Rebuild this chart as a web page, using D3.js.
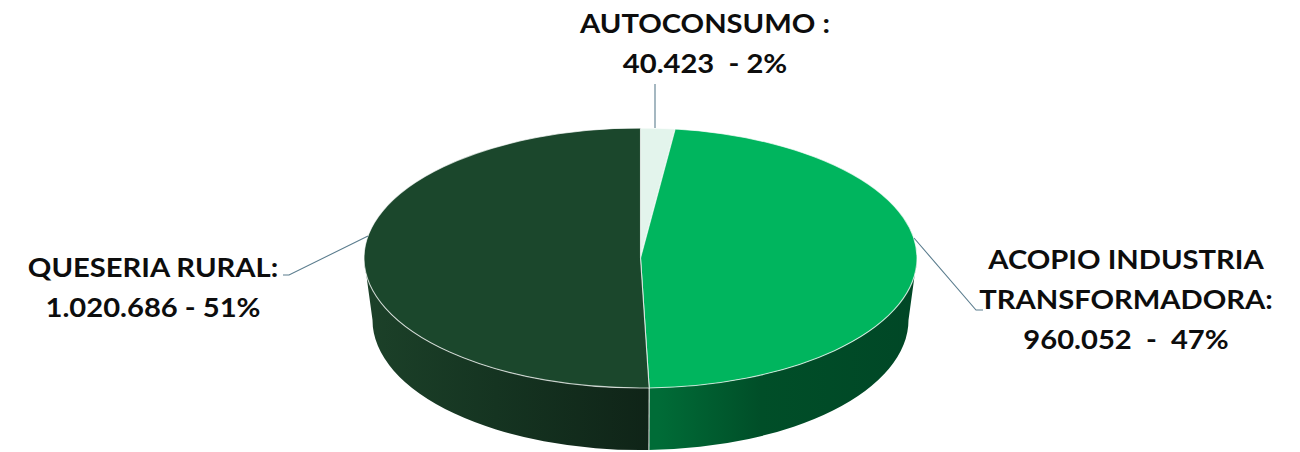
<!DOCTYPE html>
<html>
<head>
<meta charset="utf-8">
<script src="https://cdn.jsdelivr.net/npm/d3@7"></script>
<style>
  html, body { margin: 0; padding: 0; background: #ffffff; }
  svg { display: block; }
  .lbl { font-family: Lato, "Open Sans", sans-serif; font-weight: 700; fill: #0d0d0d; white-space: pre; }
</style>
</head>
<body>
<svg id="chart" width="1300" height="452"></svg>
<script>
// Milk destination volumes (litres) and their shares
const categories = ["AUTOCONSUMO", "ACOPIO INDUSTRIA TRANSFORMADORA", "QUESERIA RURAL"];
const values = [40423, 960052, 1020686];
const valueLabels = ["40.423", "960.052", "1.020.686"];
const percentLabels = ["2%", "47%", "51%"];
const labelLines = [
  ["AUTOCONSUMO :", valueLabels[0] + "  - " + percentLabels[0]],
  ["ACOPIO INDUSTRIA", "TRANSFORMADORA:", valueLabels[1] + "  -  " + percentLabels[1]],
  ["QUESERIA RURAL:", valueLabels[2] + " - " + percentLabels[2]]
];
const topColors = ["#e3f4ec", "#00b55e", "#1b472c"];

const svg = d3.select("#chart");

// Ellipse geometry for the tilted pie
const cx = 640.5, cy = 258, rx = 276.5, ry = 130;
const depth = 62, rxB = 268, ryB = 130;

const pie = d3.pie().sort(null).value(d => d.value);
const arcs = pie(categories.map((c, i) => ({ name: c, value: values[i], i })));

const topPt = a => [cx + rx * Math.sin(a), cy - ry * Math.cos(a)];
const botPt = a => [cx + rxB * Math.sin(a), cy + depth - ryB * Math.cos(a)];

// Side gradients
const defs = svg.append("defs");
const sideStops = [
  [["0%", "#1c4129"], ["45%", "#153421"], ["100%", "#0f2317"]],
  [["0%", "#006c37"], ["40%", "#004e28"], ["100%", "#004726"]]
];
const sideRange = [[364, 658], [658, 917]];
const sideIds = {};
[2, 1].forEach((sliceIdx, k) => {
  const id = "side" + sliceIdx;
  sideIds[sliceIdx] = id;
  const g = defs.append("linearGradient").attr("id", id)
    .attr("gradientUnits", "userSpaceOnUse")
    .attr("x1", sideRange[k][0]).attr("x2", sideRange[k][1]).attr("y1", 0).attr("y2", 0);
  sideStops[k].forEach(s => g.append("stop").attr("offset", s[0]).attr("stop-color", s[1]));
});

// Outer walls, only for the front half of the pie
const sides = svg.append("g");
arcs.forEach(d => {
  const a0 = Math.max(d.startAngle, Math.PI / 2);
  const a1 = Math.min(d.endAngle, Math.PI * 1.5);
  if (a1 <= a0) return;
  const p0 = topPt(a0), p1 = topPt(a1), b0 = botPt(a0), b1 = botPt(a1);
  const large = (a1 - a0) > Math.PI ? 1 : 0;
  const path = `M${p0[0]},${p0[1]} A${rx},${ry} 0 ${large} 1 ${p1[0]},${p1[1]} ` +
    `L${b1[0]},${b1[1]} A${rxB},${ryB} 0 ${large} 0 ${b0[0]},${b0[1]} Z`;
  sides.append("path").attr("d", path)
    .attr("fill", sideIds[d.data.i] ? `url(#${sideIds[d.data.i]})` : topColors[d.data.i]);
});
// Light seam where two walls meet
arcs.forEach(d => {
  const a = d.endAngle;
  if (a > Math.PI / 2 && a < Math.PI * 1.5) {
    const p = topPt(a), b = botPt(a);
    sides.append("line").attr("x1", p[0]).attr("y1", p[1]).attr("x2", b[0]).attr("y2", b[1])
      .attr("stroke", "rgba(255,255,255,0.75)").attr("stroke-width", 1.2);
  }
});

// Top faces
const tops = svg.append("g");
arcs.forEach(d => {
  const p0 = topPt(d.startAngle), p1 = topPt(d.endAngle);
  const large = (d.endAngle - d.startAngle) > Math.PI ? 1 : 0;
  const path = `M${cx},${cy} L${p0[0]},${p0[1]} A${rx},${ry} 0 ${large} 1 ${p1[0]},${p1[1]} Z`;
  tops.append("path").attr("d", path).attr("fill", topColors[d.data.i])
    .attr("stroke", "rgba(255,255,255,0.7)").attr("stroke-width", 1.1)
    .attr("stroke-linejoin", "round");
});

// Leader lines
const leaders = [
  [[655, 84], [655, 128]],
  [[914, 238], [976, 310], [983, 310]],
  [[283, 275], [289, 275], [368, 236]]
];
const lineGen = d3.line();
svg.append("g").selectAll("path").data(leaders).join("path")
  .attr("d", lineGen).attr("fill", "none")
  .attr("stroke", "#5b7d8e").attr("stroke-width", 1.1);

// Labels (slightly widened glyphs)
const labelPos = [
  { x: 705, y: 33 },
  { x: 1126, y: 269 },
  { x: 153, y: 277 }
];
const lineStep = 40;
const lg = svg.append("g");
labelLines.forEach((lines, i) => {
  const t = lg.append("text").attr("class", "lbl")
    .attr("text-anchor", "middle").attr("font-size", 27)
    .attr("transform", `translate(${labelPos[i].x},${labelPos[i].y}) scale(1.08,1)`);
  lines.forEach((s, j) => {
    t.append("tspan").attr("x", 0).attr("y", j * lineStep).text(s);
  });
});
</script>
</body>
</html>
